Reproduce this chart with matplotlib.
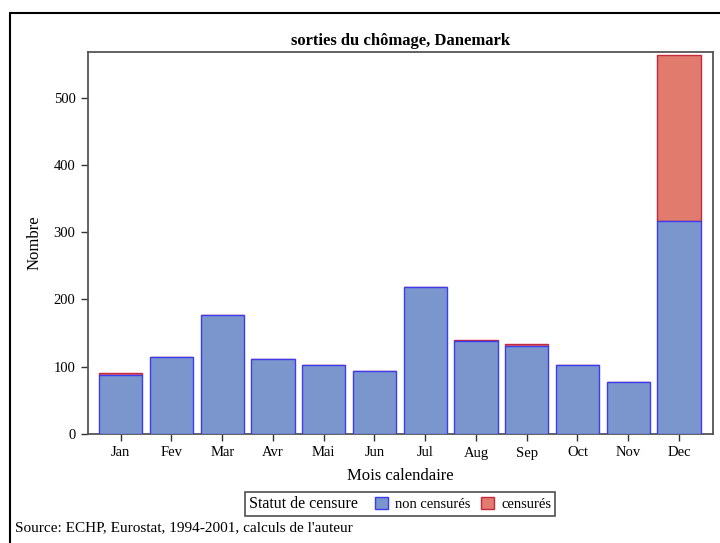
import numpy as np
import matplotlib
matplotlib.use('Agg')
import matplotlib.pyplot as plt
from matplotlib.patches import Rectangle
from matplotlib.offsetbox import HPacker

plt.rcParams['font.family'] = ['Liberation Serif', 'DejaVu Serif']

# data
months = ['Jan', 'Fev', 'Mar', 'Avr', 'Mai', 'Jun', 'Jul', 'Aug', 'Sep', 'Oct', 'Nov', 'Dec']
non_censures = [88, 115, 177, 112, 103, 93, 218, 138, 131, 102, 77, 316]
censures = [3, 0, 0, 0, 0, 0, 0, 2, 3, 0, 0, 248]
yticks = [0, 100, 200, 300, 400, 500]

blue_fill, blue_edge = '#7b96cd', '#3c3cf0'
red_fill, red_edge = '#e07b6e', '#c8283c'

fig = plt.figure(figsize=(7.2, 5.43), dpi=100)
ax = fig.add_axes([88/720, 1-434/543, 625/720, 382/543])

x = np.arange(len(months))
ax.bar(x, censures, bottom=non_censures, width=0.85, color=red_fill,
       edgecolor=red_edge, linewidth=1.0, zorder=2, label='censurés')
ax.bar(x, non_censures, width=0.85, color=blue_fill,
       edgecolor=blue_edge, linewidth=1.0, zorder=3, label='non censurés')

ax.set_xlim(-0.645, 11.67)
ax.set_ylim(0, 568)
ax.set_xticks(x)
ax.set_xticklabels(months, fontsize=10.5)
ax.set_yticks(yticks)
ax.set_yticklabels([str(v) for v in yticks], fontsize=10.5)
ax.tick_params(direction='out', length=5, width=1, color='#333333', pad=4)
for s in ax.spines.values():
    s.set_color('#555555')
    s.set_linewidth(1.3)

ax.set_xlabel('Mois calendaire', fontsize=12, labelpad=6)
ax.set_ylabel('Nombre', fontsize=12, labelpad=8)
ax.set_title('sorties du chômage, Danemark', fontsize=12, fontweight='bold', pad=5)

# legend: title inline on the left
h, l = ax.get_legend_handles_labels()
leg = fig.legend(h[::-1], l[::-1], title='Statut de censure', ncol=2,
                 loc='center', bbox_to_anchor=(400/720, 1-504/543),
                 fontsize=10.5, title_fontsize=11.5, frameon=True, fancybox=False,
                 edgecolor='#222222', handlelength=0.9, handleheight=0.9,
                 handletextpad=0.5, columnspacing=0.7, borderpad=0.25)
leg.get_frame().set_linewidth(1.2)
fs = leg._fontsize
leg._legend_box = HPacker(pad=leg.borderpad * fs, sep=1.2 * fs, align='center',
                          children=[leg._legend_title_box, leg._legend_handle_box])
leg._legend_box.set_figure(fig)
leg._legend_box.set_offset(leg._findoffset)

fig.text(15/720, 1-528/543, "Source: ECHP, Eurostat, 1994-2001, calculs de l'auteur",
         fontsize=11, ha='left', va='center')

# outer frame
fig.patches.append(Rectangle((10/720, -0.2), 1.2, 1 - 13/543 + 0.2, transform=fig.transFigure,
                             fill=False, edgecolor='black', linewidth=1.5))

fig.savefig('out.png', dpi=100)
